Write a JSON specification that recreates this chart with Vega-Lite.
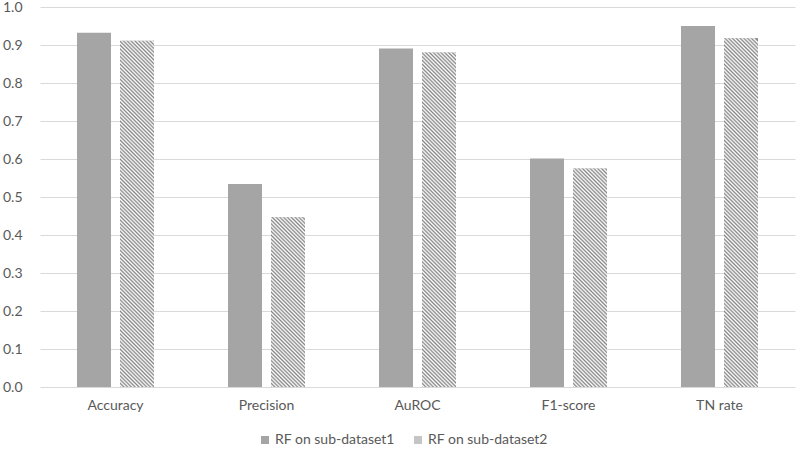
{
"$schema":"https://vega.github.io/schema/vega-lite/v6.json",
"width":755,"height":380,
"autosize":{"type":"none"},
"padding":{"left":40,"top":7,"right":5,"bottom":62},
"background":"white",
"config":{"view":{"stroke":null},"font":"Lato"},
"data":{"values":[
{"metric":"Accuracy","series":"RF on sub-dataset1","value":0.932},
{"metric":"Accuracy","series":"RF on sub-dataset2","value":0.911},
{"metric":"Precision","series":"RF on sub-dataset1","value":0.534},
{"metric":"Precision","series":"RF on sub-dataset2","value":0.447},
{"metric":"AuROC","series":"RF on sub-dataset1","value":0.891},
{"metric":"AuROC","series":"RF on sub-dataset2","value":0.880},
{"metric":"F1-score","series":"RF on sub-dataset1","value":0.601},
{"metric":"F1-score","series":"RF on sub-dataset2","value":0.575},
{"metric":"TN rate","series":"RF on sub-dataset1","value":0.950},
{"metric":"TN rate","series":"RF on sub-dataset2","value":0.918}
]},
"encoding":{
"x":{"field":"metric","type":"nominal","sort":null,"scale":{"domain":["Accuracy","Precision","AuROC","F1-score","TN rate"],"paddingInner":0.49,"paddingOuter":0.245},"axis":{"title":null,"labelAngle":0,"domain":false,"ticks":false,"labelPadding":11,"labelFontSize":14,"labelColor":"#595959"}},
"xOffset":{"field":"series","type":"nominal","scale":{"domain":["RF on sub-dataset1","RF on sub-dataset2"],"paddingInner":0.209,"paddingOuter":0}},
"y":{"field":"value","type":"quantitative","scale":{"domain":[0,1]},"axis":{"title":null,"values":[0,0.1,0.2,0.3,0.4,0.5,0.6,0.7,0.8,0.9,1],"format":".1f","domain":false,"ticks":false,"labelPadding":18,"gridColor":"#d9d9d9","labelFontSize":14,"labelColor":"#595959"}}
},
"layer":[
{"mark":{"type":"bar"},
"encoding":{"fill":{"field":"series","type":"nominal","scale":{"range":["#a5a5a5","#c4c4c4"]},
"legend":{"title":null,"orient":"none","legendX":218,"legendY":426,"direction":"horizontal","symbolType":"square","symbolSize":64,"labelFontSize":14,"labelColor":"#595959","columnPadding":16,"labelOffset":3,"symbolStrokeWidth":0}}}},
{"transform":[{"filter":"datum.series === 'RF on sub-dataset2' && datum.metric === 'Accuracy'"}],
"mark":{"type":"bar","fill":{"gradient":"linear","x1":0,"y1":1,"x2":0.1068,"y2":-0.0872,"stops":[
{"offset":0.00,"color":"#888"},{"offset":0.005,"color":"#fff"},{"offset":0.01,"color":"#888"},{"offset":0.015,"color":"#fff"},{"offset":0.02,"color":"#888"},{"offset":0.025,"color":"#fff"},{"offset":0.03,"color":"#888"},{"offset":0.035,"color":"#fff"},{"offset":0.04,"color":"#888"},{"offset":0.045,"color":"#fff"},
{"offset":0.05,"color":"#888"},{"offset":0.055,"color":"#fff"},{"offset":0.06,"color":"#888"},{"offset":0.065,"color":"#fff"},{"offset":0.07,"color":"#888"},{"offset":0.075,"color":"#fff"},{"offset":0.08,"color":"#888"},{"offset":0.085,"color":"#fff"},{"offset":0.09,"color":"#888"},{"offset":0.095,"color":"#fff"},
{"offset":0.10,"color":"#888"},{"offset":0.105,"color":"#fff"},{"offset":0.11,"color":"#888"},{"offset":0.115,"color":"#fff"},{"offset":0.12,"color":"#888"},{"offset":0.125,"color":"#fff"},{"offset":0.13,"color":"#888"},{"offset":0.135,"color":"#fff"},{"offset":0.14,"color":"#888"},{"offset":0.145,"color":"#fff"},
{"offset":0.15,"color":"#888"},{"offset":0.155,"color":"#fff"},{"offset":0.16,"color":"#888"},{"offset":0.165,"color":"#fff"},{"offset":0.17,"color":"#888"},{"offset":0.175,"color":"#fff"},{"offset":0.18,"color":"#888"},{"offset":0.185,"color":"#fff"},{"offset":0.19,"color":"#888"},{"offset":0.195,"color":"#fff"},
{"offset":0.20,"color":"#888"},{"offset":0.205,"color":"#fff"},{"offset":0.21,"color":"#888"},{"offset":0.215,"color":"#fff"},{"offset":0.22,"color":"#888"},{"offset":0.225,"color":"#fff"},{"offset":0.23,"color":"#888"},{"offset":0.235,"color":"#fff"},{"offset":0.24,"color":"#888"},{"offset":0.245,"color":"#fff"},
{"offset":0.25,"color":"#888"},{"offset":0.255,"color":"#fff"},{"offset":0.26,"color":"#888"},{"offset":0.265,"color":"#fff"},{"offset":0.27,"color":"#888"},{"offset":0.275,"color":"#fff"},{"offset":0.28,"color":"#888"},{"offset":0.285,"color":"#fff"},{"offset":0.29,"color":"#888"},{"offset":0.295,"color":"#fff"},
{"offset":0.30,"color":"#888"},{"offset":0.305,"color":"#fff"},{"offset":0.31,"color":"#888"},{"offset":0.315,"color":"#fff"},{"offset":0.32,"color":"#888"},{"offset":0.325,"color":"#fff"},{"offset":0.33,"color":"#888"},{"offset":0.335,"color":"#fff"},{"offset":0.34,"color":"#888"},{"offset":0.345,"color":"#fff"},
{"offset":0.35,"color":"#888"},{"offset":0.355,"color":"#fff"},{"offset":0.36,"color":"#888"},{"offset":0.365,"color":"#fff"},{"offset":0.37,"color":"#888"},{"offset":0.375,"color":"#fff"},{"offset":0.38,"color":"#888"},{"offset":0.385,"color":"#fff"},{"offset":0.39,"color":"#888"},{"offset":0.395,"color":"#fff"},
{"offset":0.40,"color":"#888"},{"offset":0.405,"color":"#fff"},{"offset":0.41,"color":"#888"},{"offset":0.415,"color":"#fff"},{"offset":0.42,"color":"#888"},{"offset":0.425,"color":"#fff"},{"offset":0.43,"color":"#888"},{"offset":0.435,"color":"#fff"},{"offset":0.44,"color":"#888"},{"offset":0.445,"color":"#fff"},
{"offset":0.45,"color":"#888"},{"offset":0.455,"color":"#fff"},{"offset":0.46,"color":"#888"},{"offset":0.465,"color":"#fff"},{"offset":0.47,"color":"#888"},{"offset":0.475,"color":"#fff"},{"offset":0.48,"color":"#888"},{"offset":0.485,"color":"#fff"},{"offset":0.49,"color":"#888"},{"offset":0.495,"color":"#fff"},
{"offset":0.50,"color":"#888"},{"offset":0.505,"color":"#fff"},{"offset":0.51,"color":"#888"},{"offset":0.515,"color":"#fff"},{"offset":0.52,"color":"#888"},{"offset":0.525,"color":"#fff"},{"offset":0.53,"color":"#888"},{"offset":0.535,"color":"#fff"},{"offset":0.54,"color":"#888"},{"offset":0.545,"color":"#fff"},
{"offset":0.55,"color":"#888"},{"offset":0.555,"color":"#fff"},{"offset":0.56,"color":"#888"},{"offset":0.565,"color":"#fff"},{"offset":0.57,"color":"#888"},{"offset":0.575,"color":"#fff"},{"offset":0.58,"color":"#888"},{"offset":0.585,"color":"#fff"},{"offset":0.59,"color":"#888"},{"offset":0.595,"color":"#fff"},
{"offset":0.60,"color":"#888"},{"offset":0.605,"color":"#fff"},{"offset":0.61,"color":"#888"},{"offset":0.615,"color":"#fff"},{"offset":0.62,"color":"#888"},{"offset":0.625,"color":"#fff"},{"offset":0.63,"color":"#888"},{"offset":0.635,"color":"#fff"},{"offset":0.64,"color":"#888"},{"offset":0.645,"color":"#fff"},
{"offset":0.65,"color":"#888"},{"offset":0.655,"color":"#fff"},{"offset":0.66,"color":"#888"},{"offset":0.665,"color":"#fff"},{"offset":0.67,"color":"#888"},{"offset":0.675,"color":"#fff"},{"offset":0.68,"color":"#888"},{"offset":0.685,"color":"#fff"},{"offset":0.69,"color":"#888"},{"offset":0.695,"color":"#fff"},
{"offset":0.70,"color":"#888"},{"offset":0.705,"color":"#fff"},{"offset":0.71,"color":"#888"},{"offset":0.715,"color":"#fff"},{"offset":0.72,"color":"#888"},{"offset":0.725,"color":"#fff"},{"offset":0.73,"color":"#888"},{"offset":0.735,"color":"#fff"},{"offset":0.74,"color":"#888"},{"offset":0.745,"color":"#fff"},
{"offset":0.75,"color":"#888"},{"offset":0.755,"color":"#fff"},{"offset":0.76,"color":"#888"},{"offset":0.765,"color":"#fff"},{"offset":0.77,"color":"#888"},{"offset":0.775,"color":"#fff"},{"offset":0.78,"color":"#888"},{"offset":0.785,"color":"#fff"},{"offset":0.79,"color":"#888"},{"offset":0.795,"color":"#fff"},
{"offset":0.80,"color":"#888"},{"offset":0.805,"color":"#fff"},{"offset":0.81,"color":"#888"},{"offset":0.815,"color":"#fff"},{"offset":0.82,"color":"#888"},{"offset":0.825,"color":"#fff"},{"offset":0.83,"color":"#888"},{"offset":0.835,"color":"#fff"},{"offset":0.84,"color":"#888"},{"offset":0.845,"color":"#fff"},
{"offset":0.85,"color":"#888"},{"offset":0.855,"color":"#fff"},{"offset":0.86,"color":"#888"},{"offset":0.865,"color":"#fff"},{"offset":0.87,"color":"#888"},{"offset":0.875,"color":"#fff"},{"offset":0.88,"color":"#888"},{"offset":0.885,"color":"#fff"},{"offset":0.89,"color":"#888"},{"offset":0.895,"color":"#fff"},
{"offset":0.90,"color":"#888"},{"offset":0.905,"color":"#fff"},{"offset":0.91,"color":"#888"},{"offset":0.915,"color":"#fff"},{"offset":0.92,"color":"#888"},{"offset":0.925,"color":"#fff"},{"offset":0.93,"color":"#888"},{"offset":0.935,"color":"#fff"},{"offset":0.94,"color":"#888"},{"offset":0.945,"color":"#fff"},
{"offset":0.95,"color":"#888"},{"offset":0.955,"color":"#fff"},{"offset":0.96,"color":"#888"},{"offset":0.965,"color":"#fff"},{"offset":0.97,"color":"#888"},{"offset":0.975,"color":"#fff"},{"offset":0.98,"color":"#888"},{"offset":0.985,"color":"#fff"},{"offset":0.99,"color":"#888"},{"offset":0.995,"color":"#fff"},
{"offset":1,"color":"#888"}]}}},
{"transform":[{"filter":"datum.series === 'RF on sub-dataset2' && datum.metric === 'Precision'"}],
"mark":{"type":"bar","fill":{"gradient":"linear","x1":0,"y1":1,"x2":0.4305,"y2":-1.1509,"stops":[
{"offset":0.00,"color":"#888"},{"offset":0.005,"color":"#fff"},{"offset":0.01,"color":"#888"},{"offset":0.015,"color":"#fff"},{"offset":0.02,"color":"#888"},{"offset":0.025,"color":"#fff"},{"offset":0.03,"color":"#888"},{"offset":0.035,"color":"#fff"},{"offset":0.04,"color":"#888"},{"offset":0.045,"color":"#fff"},
{"offset":0.05,"color":"#888"},{"offset":0.055,"color":"#fff"},{"offset":0.06,"color":"#888"},{"offset":0.065,"color":"#fff"},{"offset":0.07,"color":"#888"},{"offset":0.075,"color":"#fff"},{"offset":0.08,"color":"#888"},{"offset":0.085,"color":"#fff"},{"offset":0.09,"color":"#888"},{"offset":0.095,"color":"#fff"},
{"offset":0.10,"color":"#888"},{"offset":0.105,"color":"#fff"},{"offset":0.11,"color":"#888"},{"offset":0.115,"color":"#fff"},{"offset":0.12,"color":"#888"},{"offset":0.125,"color":"#fff"},{"offset":0.13,"color":"#888"},{"offset":0.135,"color":"#fff"},{"offset":0.14,"color":"#888"},{"offset":0.145,"color":"#fff"},
{"offset":0.15,"color":"#888"},{"offset":0.155,"color":"#fff"},{"offset":0.16,"color":"#888"},{"offset":0.165,"color":"#fff"},{"offset":0.17,"color":"#888"},{"offset":0.175,"color":"#fff"},{"offset":0.18,"color":"#888"},{"offset":0.185,"color":"#fff"},{"offset":0.19,"color":"#888"},{"offset":0.195,"color":"#fff"},
{"offset":0.20,"color":"#888"},{"offset":0.205,"color":"#fff"},{"offset":0.21,"color":"#888"},{"offset":0.215,"color":"#fff"},{"offset":0.22,"color":"#888"},{"offset":0.225,"color":"#fff"},{"offset":0.23,"color":"#888"},{"offset":0.235,"color":"#fff"},{"offset":0.24,"color":"#888"},{"offset":0.245,"color":"#fff"},
{"offset":0.25,"color":"#888"},{"offset":0.255,"color":"#fff"},{"offset":0.26,"color":"#888"},{"offset":0.265,"color":"#fff"},{"offset":0.27,"color":"#888"},{"offset":0.275,"color":"#fff"},{"offset":0.28,"color":"#888"},{"offset":0.285,"color":"#fff"},{"offset":0.29,"color":"#888"},{"offset":0.295,"color":"#fff"},
{"offset":0.30,"color":"#888"},{"offset":0.305,"color":"#fff"},{"offset":0.31,"color":"#888"},{"offset":0.315,"color":"#fff"},{"offset":0.32,"color":"#888"},{"offset":0.325,"color":"#fff"},{"offset":0.33,"color":"#888"},{"offset":0.335,"color":"#fff"},{"offset":0.34,"color":"#888"},{"offset":0.345,"color":"#fff"},
{"offset":0.35,"color":"#888"},{"offset":0.355,"color":"#fff"},{"offset":0.36,"color":"#888"},{"offset":0.365,"color":"#fff"},{"offset":0.37,"color":"#888"},{"offset":0.375,"color":"#fff"},{"offset":0.38,"color":"#888"},{"offset":0.385,"color":"#fff"},{"offset":0.39,"color":"#888"},{"offset":0.395,"color":"#fff"},
{"offset":0.40,"color":"#888"},{"offset":0.405,"color":"#fff"},{"offset":0.41,"color":"#888"},{"offset":0.415,"color":"#fff"},{"offset":0.42,"color":"#888"},{"offset":0.425,"color":"#fff"},{"offset":0.43,"color":"#888"},{"offset":0.435,"color":"#fff"},{"offset":0.44,"color":"#888"},{"offset":0.445,"color":"#fff"},
{"offset":0.45,"color":"#888"},{"offset":0.455,"color":"#fff"},{"offset":0.46,"color":"#888"},{"offset":0.465,"color":"#fff"},{"offset":0.47,"color":"#888"},{"offset":0.475,"color":"#fff"},{"offset":0.48,"color":"#888"},{"offset":0.485,"color":"#fff"},{"offset":0.49,"color":"#888"},{"offset":0.495,"color":"#fff"},
{"offset":0.50,"color":"#888"},{"offset":0.505,"color":"#fff"},{"offset":0.51,"color":"#888"},{"offset":0.515,"color":"#fff"},{"offset":0.52,"color":"#888"},{"offset":0.525,"color":"#fff"},{"offset":0.53,"color":"#888"},{"offset":0.535,"color":"#fff"},{"offset":0.54,"color":"#888"}]}}},
{"transform":[{"filter":"datum.series === 'RF on sub-dataset2' && datum.metric === 'AuROC'"}],
"mark":{"type":"bar","fill":{"gradient":"linear","x1":0,"y1":1,"x2":0.1144,"y2":-0.1247,"stops":[
{"offset":0.00,"color":"#888"},{"offset":0.005,"color":"#fff"},{"offset":0.01,"color":"#888"},{"offset":0.015,"color":"#fff"},{"offset":0.02,"color":"#888"},{"offset":0.025,"color":"#fff"},{"offset":0.03,"color":"#888"},{"offset":0.035,"color":"#fff"},{"offset":0.04,"color":"#888"},{"offset":0.045,"color":"#fff"},
{"offset":0.05,"color":"#888"},{"offset":0.055,"color":"#fff"},{"offset":0.06,"color":"#888"},{"offset":0.065,"color":"#fff"},{"offset":0.07,"color":"#888"},{"offset":0.075,"color":"#fff"},{"offset":0.08,"color":"#888"},{"offset":0.085,"color":"#fff"},{"offset":0.09,"color":"#888"},{"offset":0.095,"color":"#fff"},
{"offset":0.10,"color":"#888"},{"offset":0.105,"color":"#fff"},{"offset":0.11,"color":"#888"},{"offset":0.115,"color":"#fff"},{"offset":0.12,"color":"#888"},{"offset":0.125,"color":"#fff"},{"offset":0.13,"color":"#888"},{"offset":0.135,"color":"#fff"},{"offset":0.14,"color":"#888"},{"offset":0.145,"color":"#fff"},
{"offset":0.15,"color":"#888"},{"offset":0.155,"color":"#fff"},{"offset":0.16,"color":"#888"},{"offset":0.165,"color":"#fff"},{"offset":0.17,"color":"#888"},{"offset":0.175,"color":"#fff"},{"offset":0.18,"color":"#888"},{"offset":0.185,"color":"#fff"},{"offset":0.19,"color":"#888"},{"offset":0.195,"color":"#fff"},
{"offset":0.20,"color":"#888"},{"offset":0.205,"color":"#fff"},{"offset":0.21,"color":"#888"},{"offset":0.215,"color":"#fff"},{"offset":0.22,"color":"#888"},{"offset":0.225,"color":"#fff"},{"offset":0.23,"color":"#888"},{"offset":0.235,"color":"#fff"},{"offset":0.24,"color":"#888"},{"offset":0.245,"color":"#fff"},
{"offset":0.25,"color":"#888"},{"offset":0.255,"color":"#fff"},{"offset":0.26,"color":"#888"},{"offset":0.265,"color":"#fff"},{"offset":0.27,"color":"#888"},{"offset":0.275,"color":"#fff"},{"offset":0.28,"color":"#888"},{"offset":0.285,"color":"#fff"},{"offset":0.29,"color":"#888"},{"offset":0.295,"color":"#fff"},
{"offset":0.30,"color":"#888"},{"offset":0.305,"color":"#fff"},{"offset":0.31,"color":"#888"},{"offset":0.315,"color":"#fff"},{"offset":0.32,"color":"#888"},{"offset":0.325,"color":"#fff"},{"offset":0.33,"color":"#888"},{"offset":0.335,"color":"#fff"},{"offset":0.34,"color":"#888"},{"offset":0.345,"color":"#fff"},
{"offset":0.35,"color":"#888"},{"offset":0.355,"color":"#fff"},{"offset":0.36,"color":"#888"},{"offset":0.365,"color":"#fff"},{"offset":0.37,"color":"#888"},{"offset":0.375,"color":"#fff"},{"offset":0.38,"color":"#888"},{"offset":0.385,"color":"#fff"},{"offset":0.39,"color":"#888"},{"offset":0.395,"color":"#fff"},
{"offset":0.40,"color":"#888"},{"offset":0.405,"color":"#fff"},{"offset":0.41,"color":"#888"},{"offset":0.415,"color":"#fff"},{"offset":0.42,"color":"#888"},{"offset":0.425,"color":"#fff"},{"offset":0.43,"color":"#888"},{"offset":0.435,"color":"#fff"},{"offset":0.44,"color":"#888"},{"offset":0.445,"color":"#fff"},
{"offset":0.45,"color":"#888"},{"offset":0.455,"color":"#fff"},{"offset":0.46,"color":"#888"},{"offset":0.465,"color":"#fff"},{"offset":0.47,"color":"#888"},{"offset":0.475,"color":"#fff"},{"offset":0.48,"color":"#888"},{"offset":0.485,"color":"#fff"},{"offset":0.49,"color":"#888"},{"offset":0.495,"color":"#fff"},
{"offset":0.50,"color":"#888"},{"offset":0.505,"color":"#fff"},{"offset":0.51,"color":"#888"},{"offset":0.515,"color":"#fff"},{"offset":0.52,"color":"#888"},{"offset":0.525,"color":"#fff"},{"offset":0.53,"color":"#888"},{"offset":0.535,"color":"#fff"},{"offset":0.54,"color":"#888"},{"offset":0.545,"color":"#fff"},
{"offset":0.55,"color":"#888"},{"offset":0.555,"color":"#fff"},{"offset":0.56,"color":"#888"},{"offset":0.565,"color":"#fff"},{"offset":0.57,"color":"#888"},{"offset":0.575,"color":"#fff"},{"offset":0.58,"color":"#888"},{"offset":0.585,"color":"#fff"},{"offset":0.59,"color":"#888"},{"offset":0.595,"color":"#fff"},
{"offset":0.60,"color":"#888"},{"offset":0.605,"color":"#fff"},{"offset":0.61,"color":"#888"},{"offset":0.615,"color":"#fff"},{"offset":0.62,"color":"#888"},{"offset":0.625,"color":"#fff"},{"offset":0.63,"color":"#888"},{"offset":0.635,"color":"#fff"},{"offset":0.64,"color":"#888"},{"offset":0.645,"color":"#fff"},
{"offset":0.65,"color":"#888"},{"offset":0.655,"color":"#fff"},{"offset":0.66,"color":"#888"},{"offset":0.665,"color":"#fff"},{"offset":0.67,"color":"#888"},{"offset":0.675,"color":"#fff"},{"offset":0.68,"color":"#888"},{"offset":0.685,"color":"#fff"},{"offset":0.69,"color":"#888"},{"offset":0.695,"color":"#fff"},
{"offset":0.70,"color":"#888"},{"offset":0.705,"color":"#fff"},{"offset":0.71,"color":"#888"},{"offset":0.715,"color":"#fff"},{"offset":0.72,"color":"#888"},{"offset":0.725,"color":"#fff"},{"offset":0.73,"color":"#888"},{"offset":0.735,"color":"#fff"},{"offset":0.74,"color":"#888"},{"offset":0.745,"color":"#fff"},
{"offset":0.75,"color":"#888"},{"offset":0.755,"color":"#fff"},{"offset":0.76,"color":"#888"},{"offset":0.765,"color":"#fff"},{"offset":0.77,"color":"#888"},{"offset":0.775,"color":"#fff"},{"offset":0.78,"color":"#888"},{"offset":0.785,"color":"#fff"},{"offset":0.79,"color":"#888"},{"offset":0.795,"color":"#fff"},
{"offset":0.80,"color":"#888"},{"offset":0.805,"color":"#fff"},{"offset":0.81,"color":"#888"},{"offset":0.815,"color":"#fff"},{"offset":0.82,"color":"#888"},{"offset":0.825,"color":"#fff"},{"offset":0.83,"color":"#888"},{"offset":0.835,"color":"#fff"},{"offset":0.84,"color":"#888"},{"offset":0.845,"color":"#fff"},
{"offset":0.85,"color":"#888"},{"offset":0.855,"color":"#fff"},{"offset":0.86,"color":"#888"},{"offset":0.865,"color":"#fff"},{"offset":0.87,"color":"#888"},{"offset":0.875,"color":"#fff"},{"offset":0.88,"color":"#888"},{"offset":0.885,"color":"#fff"},{"offset":0.89,"color":"#888"},{"offset":0.895,"color":"#fff"},
{"offset":0.90,"color":"#888"},{"offset":0.905,"color":"#fff"},{"offset":0.91,"color":"#888"},{"offset":0.915,"color":"#fff"},{"offset":0.92,"color":"#888"},{"offset":0.925,"color":"#fff"},{"offset":0.93,"color":"#888"},{"offset":0.935,"color":"#fff"},{"offset":0.94,"color":"#888"},{"offset":0.945,"color":"#fff"},
{"offset":0.95,"color":"#888"},{"offset":0.955,"color":"#fff"},{"offset":0.96,"color":"#888"},{"offset":0.965,"color":"#fff"},{"offset":0.97,"color":"#888"}]}}},
{"transform":[{"filter":"datum.series === 'RF on sub-dataset2' && datum.metric === 'F1-score'"}],
"mark":{"type":"bar","fill":{"gradient":"linear","x1":0,"y1":1,"x2":0.2642,"y2":-0.6980,"stops":[
{"offset":0.00,"color":"#888"},{"offset":0.005,"color":"#fff"},{"offset":0.01,"color":"#888"},{"offset":0.015,"color":"#fff"},{"offset":0.02,"color":"#888"},{"offset":0.025,"color":"#fff"},{"offset":0.03,"color":"#888"},{"offset":0.035,"color":"#fff"},{"offset":0.04,"color":"#888"},{"offset":0.045,"color":"#fff"},
{"offset":0.05,"color":"#888"},{"offset":0.055,"color":"#fff"},{"offset":0.06,"color":"#888"},{"offset":0.065,"color":"#fff"},{"offset":0.07,"color":"#888"},{"offset":0.075,"color":"#fff"},{"offset":0.08,"color":"#888"},{"offset":0.085,"color":"#fff"},{"offset":0.09,"color":"#888"},{"offset":0.095,"color":"#fff"},
{"offset":0.10,"color":"#888"},{"offset":0.105,"color":"#fff"},{"offset":0.11,"color":"#888"},{"offset":0.115,"color":"#fff"},{"offset":0.12,"color":"#888"},{"offset":0.125,"color":"#fff"},{"offset":0.13,"color":"#888"},{"offset":0.135,"color":"#fff"},{"offset":0.14,"color":"#888"},{"offset":0.145,"color":"#fff"},
{"offset":0.15,"color":"#888"},{"offset":0.155,"color":"#fff"},{"offset":0.16,"color":"#888"},{"offset":0.165,"color":"#fff"},{"offset":0.17,"color":"#888"},{"offset":0.175,"color":"#fff"},{"offset":0.18,"color":"#888"},{"offset":0.185,"color":"#fff"},{"offset":0.19,"color":"#888"},{"offset":0.195,"color":"#fff"},
{"offset":0.20,"color":"#888"},{"offset":0.205,"color":"#fff"},{"offset":0.21,"color":"#888"},{"offset":0.215,"color":"#fff"},{"offset":0.22,"color":"#888"},{"offset":0.225,"color":"#fff"},{"offset":0.23,"color":"#888"},{"offset":0.235,"color":"#fff"},{"offset":0.24,"color":"#888"},{"offset":0.245,"color":"#fff"},
{"offset":0.25,"color":"#888"},{"offset":0.255,"color":"#fff"},{"offset":0.26,"color":"#888"},{"offset":0.265,"color":"#fff"},{"offset":0.27,"color":"#888"},{"offset":0.275,"color":"#fff"},{"offset":0.28,"color":"#888"},{"offset":0.285,"color":"#fff"},{"offset":0.29,"color":"#888"},{"offset":0.295,"color":"#fff"},
{"offset":0.30,"color":"#888"},{"offset":0.305,"color":"#fff"},{"offset":0.31,"color":"#888"},{"offset":0.315,"color":"#fff"},{"offset":0.32,"color":"#888"},{"offset":0.325,"color":"#fff"},{"offset":0.33,"color":"#888"},{"offset":0.335,"color":"#fff"},{"offset":0.34,"color":"#888"},{"offset":0.345,"color":"#fff"},
{"offset":0.35,"color":"#888"},{"offset":0.355,"color":"#fff"},{"offset":0.36,"color":"#888"},{"offset":0.365,"color":"#fff"},{"offset":0.37,"color":"#888"},{"offset":0.375,"color":"#fff"},{"offset":0.38,"color":"#888"},{"offset":0.385,"color":"#fff"},{"offset":0.39,"color":"#888"},{"offset":0.395,"color":"#fff"},
{"offset":0.40,"color":"#888"},{"offset":0.405,"color":"#fff"},{"offset":0.41,"color":"#888"},{"offset":0.415,"color":"#fff"},{"offset":0.42,"color":"#888"},{"offset":0.425,"color":"#fff"},{"offset":0.43,"color":"#888"},{"offset":0.435,"color":"#fff"},{"offset":0.44,"color":"#888"},{"offset":0.445,"color":"#fff"},
{"offset":0.45,"color":"#888"},{"offset":0.455,"color":"#fff"},{"offset":0.46,"color":"#888"},{"offset":0.465,"color":"#fff"},{"offset":0.47,"color":"#888"},{"offset":0.475,"color":"#fff"},{"offset":0.48,"color":"#888"},{"offset":0.485,"color":"#fff"},{"offset":0.49,"color":"#888"},{"offset":0.495,"color":"#fff"},
{"offset":0.50,"color":"#888"},{"offset":0.505,"color":"#fff"},{"offset":0.51,"color":"#888"},{"offset":0.515,"color":"#fff"},{"offset":0.52,"color":"#888"},{"offset":0.525,"color":"#fff"},{"offset":0.53,"color":"#888"},{"offset":0.535,"color":"#fff"},{"offset":0.54,"color":"#888"},{"offset":0.545,"color":"#fff"},
{"offset":0.55,"color":"#888"},{"offset":0.555,"color":"#fff"},{"offset":0.56,"color":"#888"},{"offset":0.565,"color":"#fff"},{"offset":0.57,"color":"#888"},{"offset":0.575,"color":"#fff"},{"offset":0.58,"color":"#888"},{"offset":0.585,"color":"#fff"},{"offset":0.59,"color":"#888"},{"offset":0.595,"color":"#fff"},
{"offset":0.60,"color":"#888"},{"offset":0.605,"color":"#fff"},{"offset":0.61,"color":"#888"},{"offset":0.615,"color":"#fff"},{"offset":0.62,"color":"#888"},{"offset":0.625,"color":"#fff"},{"offset":0.63,"color":"#888"},{"offset":0.635,"color":"#fff"},{"offset":0.64,"color":"#888"},{"offset":0.645,"color":"#fff"},
{"offset":0.65,"color":"#888"},{"offset":0.655,"color":"#fff"},{"offset":0.66,"color":"#888"},{"offset":0.665,"color":"#fff"}]}}},
{"transform":[{"filter":"datum.series === 'RF on sub-dataset2' && datum.metric === 'TN rate'"}],
"mark":{"type":"bar","fill":{"gradient":"linear","x1":0,"y1":1,"x2":0.1052,"y2":-0.0791,"stops":[
{"offset":0.00,"color":"#888"},{"offset":0.005,"color":"#fff"},{"offset":0.01,"color":"#888"},{"offset":0.015,"color":"#fff"},{"offset":0.02,"color":"#888"},{"offset":0.025,"color":"#fff"},{"offset":0.03,"color":"#888"},{"offset":0.035,"color":"#fff"},{"offset":0.04,"color":"#888"},{"offset":0.045,"color":"#fff"},
{"offset":0.05,"color":"#888"},{"offset":0.055,"color":"#fff"},{"offset":0.06,"color":"#888"},{"offset":0.065,"color":"#fff"},{"offset":0.07,"color":"#888"},{"offset":0.075,"color":"#fff"},{"offset":0.08,"color":"#888"},{"offset":0.085,"color":"#fff"},{"offset":0.09,"color":"#888"},{"offset":0.095,"color":"#fff"},
{"offset":0.10,"color":"#888"},{"offset":0.105,"color":"#fff"},{"offset":0.11,"color":"#888"},{"offset":0.115,"color":"#fff"},{"offset":0.12,"color":"#888"},{"offset":0.125,"color":"#fff"},{"offset":0.13,"color":"#888"},{"offset":0.135,"color":"#fff"},{"offset":0.14,"color":"#888"},{"offset":0.145,"color":"#fff"},
{"offset":0.15,"color":"#888"},{"offset":0.155,"color":"#fff"},{"offset":0.16,"color":"#888"},{"offset":0.165,"color":"#fff"},{"offset":0.17,"color":"#888"},{"offset":0.175,"color":"#fff"},{"offset":0.18,"color":"#888"},{"offset":0.185,"color":"#fff"},{"offset":0.19,"color":"#888"},{"offset":0.195,"color":"#fff"},
{"offset":0.20,"color":"#888"},{"offset":0.205,"color":"#fff"},{"offset":0.21,"color":"#888"},{"offset":0.215,"color":"#fff"},{"offset":0.22,"color":"#888"},{"offset":0.225,"color":"#fff"},{"offset":0.23,"color":"#888"},{"offset":0.235,"color":"#fff"},{"offset":0.24,"color":"#888"},{"offset":0.245,"color":"#fff"},
{"offset":0.25,"color":"#888"},{"offset":0.255,"color":"#fff"},{"offset":0.26,"color":"#888"},{"offset":0.265,"color":"#fff"},{"offset":0.27,"color":"#888"},{"offset":0.275,"color":"#fff"},{"offset":0.28,"color":"#888"},{"offset":0.285,"color":"#fff"},{"offset":0.29,"color":"#888"},{"offset":0.295,"color":"#fff"},
{"offset":0.30,"color":"#888"},{"offset":0.305,"color":"#fff"},{"offset":0.31,"color":"#888"},{"offset":0.315,"color":"#fff"},{"offset":0.32,"color":"#888"},{"offset":0.325,"color":"#fff"},{"offset":0.33,"color":"#888"},{"offset":0.335,"color":"#fff"},{"offset":0.34,"color":"#888"},{"offset":0.345,"color":"#fff"},
{"offset":0.35,"color":"#888"},{"offset":0.355,"color":"#fff"},{"offset":0.36,"color":"#888"},{"offset":0.365,"color":"#fff"},{"offset":0.37,"color":"#888"},{"offset":0.375,"color":"#fff"},{"offset":0.38,"color":"#888"},{"offset":0.385,"color":"#fff"},{"offset":0.39,"color":"#888"},{"offset":0.395,"color":"#fff"},
{"offset":0.40,"color":"#888"},{"offset":0.405,"color":"#fff"},{"offset":0.41,"color":"#888"},{"offset":0.415,"color":"#fff"},{"offset":0.42,"color":"#888"},{"offset":0.425,"color":"#fff"},{"offset":0.43,"color":"#888"},{"offset":0.435,"color":"#fff"},{"offset":0.44,"color":"#888"},{"offset":0.445,"color":"#fff"},
{"offset":0.45,"color":"#888"},{"offset":0.455,"color":"#fff"},{"offset":0.46,"color":"#888"},{"offset":0.465,"color":"#fff"},{"offset":0.47,"color":"#888"},{"offset":0.475,"color":"#fff"},{"offset":0.48,"color":"#888"},{"offset":0.485,"color":"#fff"},{"offset":0.49,"color":"#888"},{"offset":0.495,"color":"#fff"},
{"offset":0.50,"color":"#888"},{"offset":0.505,"color":"#fff"},{"offset":0.51,"color":"#888"},{"offset":0.515,"color":"#fff"},{"offset":0.52,"color":"#888"},{"offset":0.525,"color":"#fff"},{"offset":0.53,"color":"#888"},{"offset":0.535,"color":"#fff"},{"offset":0.54,"color":"#888"},{"offset":0.545,"color":"#fff"},
{"offset":0.55,"color":"#888"},{"offset":0.555,"color":"#fff"},{"offset":0.56,"color":"#888"},{"offset":0.565,"color":"#fff"},{"offset":0.57,"color":"#888"},{"offset":0.575,"color":"#fff"},{"offset":0.58,"color":"#888"},{"offset":0.585,"color":"#fff"},{"offset":0.59,"color":"#888"},{"offset":0.595,"color":"#fff"},
{"offset":0.60,"color":"#888"},{"offset":0.605,"color":"#fff"},{"offset":0.61,"color":"#888"},{"offset":0.615,"color":"#fff"},{"offset":0.62,"color":"#888"},{"offset":0.625,"color":"#fff"},{"offset":0.63,"color":"#888"},{"offset":0.635,"color":"#fff"},{"offset":0.64,"color":"#888"},{"offset":0.645,"color":"#fff"},
{"offset":0.65,"color":"#888"},{"offset":0.655,"color":"#fff"},{"offset":0.66,"color":"#888"},{"offset":0.665,"color":"#fff"},{"offset":0.67,"color":"#888"},{"offset":0.675,"color":"#fff"},{"offset":0.68,"color":"#888"},{"offset":0.685,"color":"#fff"},{"offset":0.69,"color":"#888"},{"offset":0.695,"color":"#fff"},
{"offset":0.70,"color":"#888"},{"offset":0.705,"color":"#fff"},{"offset":0.71,"color":"#888"},{"offset":0.715,"color":"#fff"},{"offset":0.72,"color":"#888"},{"offset":0.725,"color":"#fff"},{"offset":0.73,"color":"#888"},{"offset":0.735,"color":"#fff"},{"offset":0.74,"color":"#888"},{"offset":0.745,"color":"#fff"},
{"offset":0.75,"color":"#888"},{"offset":0.755,"color":"#fff"},{"offset":0.76,"color":"#888"},{"offset":0.765,"color":"#fff"},{"offset":0.77,"color":"#888"},{"offset":0.775,"color":"#fff"},{"offset":0.78,"color":"#888"},{"offset":0.785,"color":"#fff"},{"offset":0.79,"color":"#888"},{"offset":0.795,"color":"#fff"},
{"offset":0.80,"color":"#888"},{"offset":0.805,"color":"#fff"},{"offset":0.81,"color":"#888"},{"offset":0.815,"color":"#fff"},{"offset":0.82,"color":"#888"},{"offset":0.825,"color":"#fff"},{"offset":0.83,"color":"#888"},{"offset":0.835,"color":"#fff"},{"offset":0.84,"color":"#888"},{"offset":0.845,"color":"#fff"},
{"offset":0.85,"color":"#888"},{"offset":0.855,"color":"#fff"},{"offset":0.86,"color":"#888"},{"offset":0.865,"color":"#fff"},{"offset":0.87,"color":"#888"},{"offset":0.875,"color":"#fff"},{"offset":0.88,"color":"#888"},{"offset":0.885,"color":"#fff"},{"offset":0.89,"color":"#888"},{"offset":0.895,"color":"#fff"},
{"offset":0.90,"color":"#888"},{"offset":0.905,"color":"#fff"},{"offset":0.91,"color":"#888"},{"offset":0.915,"color":"#fff"},{"offset":0.92,"color":"#888"},{"offset":0.925,"color":"#fff"},{"offset":0.93,"color":"#888"},{"offset":0.935,"color":"#fff"},{"offset":0.94,"color":"#888"},{"offset":0.945,"color":"#fff"},
{"offset":0.95,"color":"#888"},{"offset":0.955,"color":"#fff"},{"offset":0.96,"color":"#888"},{"offset":0.965,"color":"#fff"},{"offset":0.97,"color":"#888"},{"offset":0.975,"color":"#fff"},{"offset":0.98,"color":"#888"},{"offset":0.985,"color":"#fff"},{"offset":0.99,"color":"#888"},{"offset":0.995,"color":"#fff"},
{"offset":1,"color":"#888"}]}}}
]
}
